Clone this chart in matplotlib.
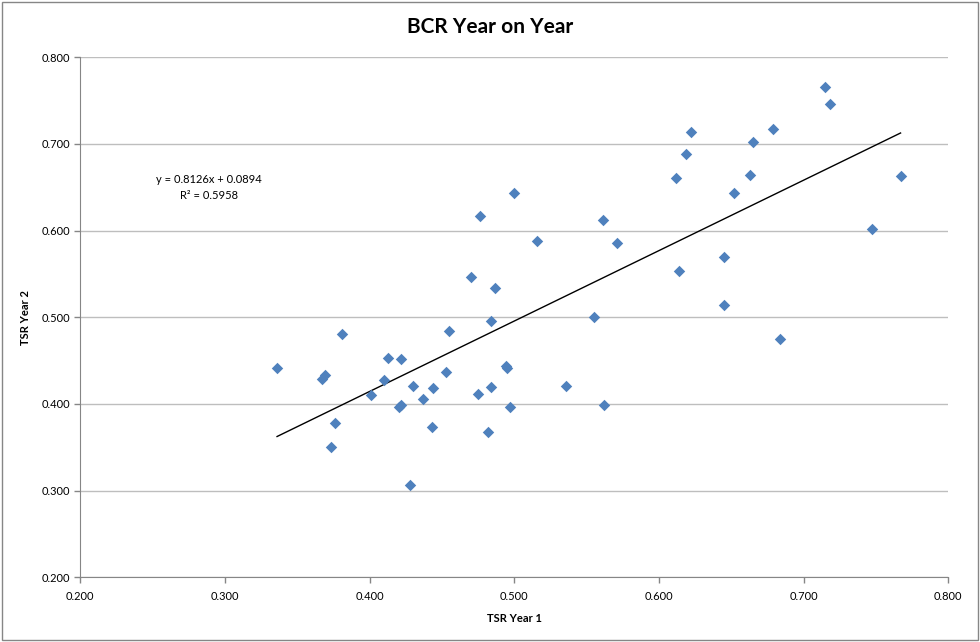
import matplotlib
matplotlib.use('Agg')
import matplotlib.pyplot as plt
from matplotlib.patches import Rectangle
import numpy as np

plt.rcParams['font.family'] = ['Lato', 'DejaVu Sans']

# values
tsrYear1 = [0.336, 0.367, 0.369, 0.381, 0.376, 0.373, 0.401, 0.410, 0.413, 0.422,
            0.420, 0.422, 0.430, 0.428, 0.437, 0.444, 0.443, 0.453, 0.455, 0.470,
            0.475, 0.476, 0.484, 0.484, 0.482, 0.487, 0.494, 0.495, 0.497, 0.500,
            0.516, 0.536, 0.555, 0.561, 0.562, 0.571, 0.612, 0.614, 0.619, 0.622,
            0.645, 0.645, 0.652, 0.663, 0.665, 0.679, 0.684, 0.715, 0.718, 0.747,
            0.767]
tsrYear2 = [0.442, 0.429, 0.433, 0.481, 0.378, 0.350, 0.410, 0.428, 0.453, 0.452,
            0.396, 0.399, 0.421, 0.307, 0.406, 0.419, 0.373, 0.437, 0.484, 0.547,
            0.412, 0.617, 0.496, 0.420, 0.368, 0.534, 0.444, 0.442, 0.397, 0.644,
            0.588, 0.421, 0.500, 0.612, 0.399, 0.586, 0.661, 0.553, 0.688, 0.714,
            0.570, 0.514, 0.643, 0.664, 0.702, 0.717, 0.475, 0.766, 0.746, 0.602,
            0.663]

slope = 0.8126
intercept = 0.0894
rSquared = 0.5958

axisTicks = [0.2, 0.3, 0.4, 0.5, 0.6, 0.7, 0.8]
axisGray = '#868686'

fig = plt.figure(figsize=(9.8, 6.42), dpi=100)
ax = fig.add_axes([80.3 / 980, 64.7 / 642, 868 / 980, 520 / 642])

ax.scatter(tsrYear1, tsrYear2, marker='D', s=34, color='#4F81BD', linewidths=0, zorder=3)

lineX = np.array([min(tsrYear1), max(tsrYear1)])
ax.plot(lineX, slope * lineX + intercept, color='black', lw=1.0, zorder=2)

ax.set_xlim(0.2, 0.8)
ax.set_ylim(0.2, 0.8)
ax.set_xticks(axisTicks)
ax.set_yticks(axisTicks)
ax.set_xticklabels(["%.3f" % t for t in axisTicks])
ax.set_yticklabels(["%.3f" % t for t in axisTicks])
ax.tick_params(labelsize=8, colors=axisGray, labelcolor='black', length=4, width=1)
ax.tick_params(axis='x', pad=6)
ax.tick_params(axis='y', pad=3)

ax.yaxis.grid(True, color='#BEBEBE', lw=1)
ax.set_axisbelow(True)
ax.spines['top'].set_visible(False)
ax.spines['right'].set_visible(False)
ax.spines['left'].set_color(axisGray)
ax.spines['bottom'].set_color(axisGray)

ax.set_xlabel("TSR Year 1", fontsize=8, fontweight='bold', labelpad=8)
ax.set_ylabel("TSR Year 2", fontsize=8, fontweight='bold', labelpad=8)

ax.text(0.289, 0.659, "y = %.4fx + %.4f" % (slope, intercept), fontsize=8, ha='center', va='center')
ax.text(0.289, 0.641, "R\u00b2 = %.4f" % rSquared, fontsize=8, ha='center', va='center')

fig.text(0.5, 1 - 27 / 642, "BCR Year on Year", fontsize=15, fontweight='bold', ha='center', va='center')

fig.patches.append(Rectangle((2 / 980, 2 / 642), 976 / 980, 638 / 642, transform=fig.transFigure,
                             fill=False, edgecolor=axisGray, lw=1))

fig.savefig('out.png', dpi=100)
